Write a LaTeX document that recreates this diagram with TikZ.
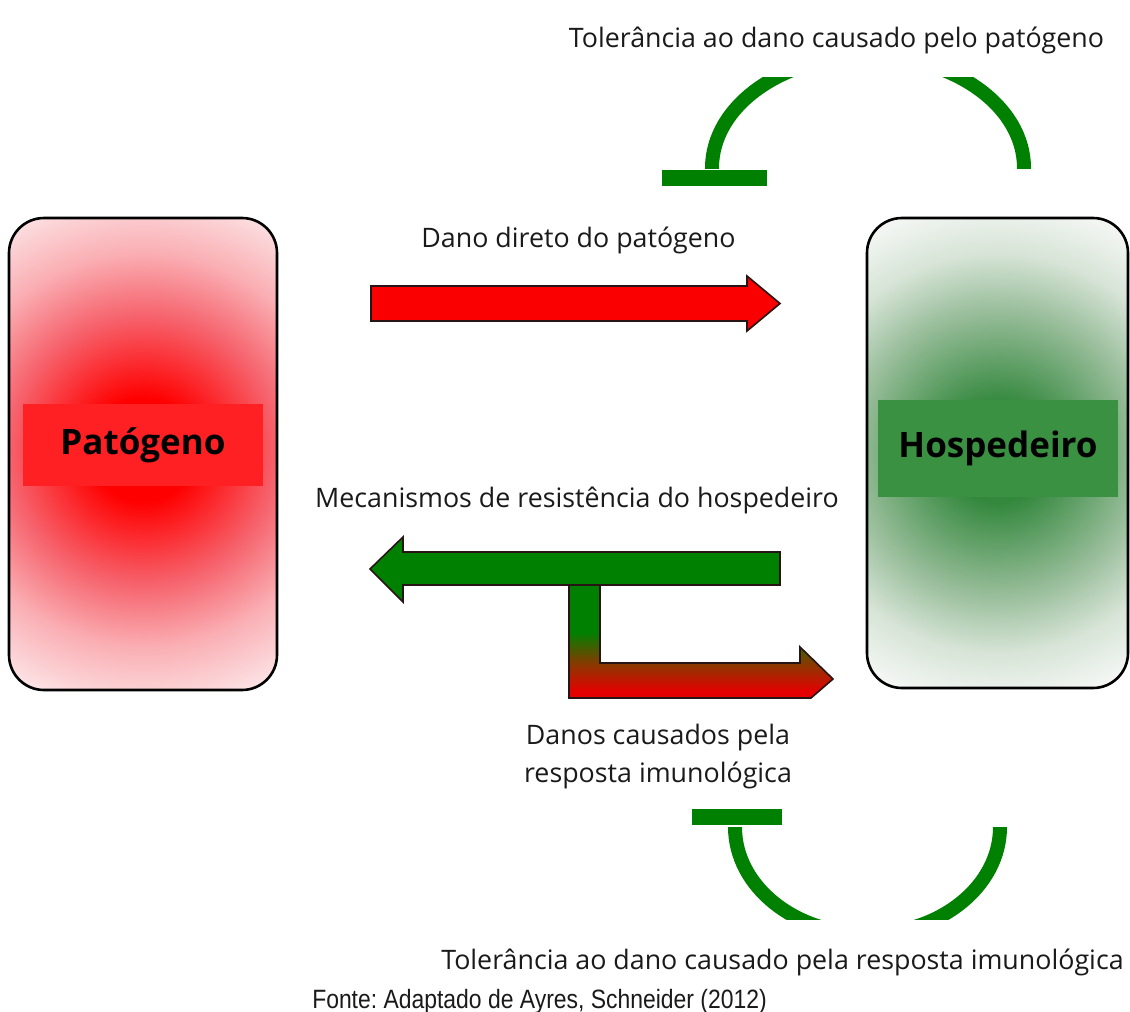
\documentclass[tikz,border=0pt]{standalone}
\usepackage{fontspec}
\setmainfont{Open Sans}
\newfontfamily\arialf{Liberation Sans}
\frenchspacing
\definecolor{txt}{RGB}{26,26,26}
\definecolor{pgreen}{RGB}{0,128,0}
\definecolor{ared}{RGB}{250,0,0}
\definecolor{aline}{RGB}{40,20,20}
\definecolor{lblred}{RGB}{255,32,36}
\definecolor{lblgreen}{RGB}{58,145,66}
\definecolor{redA}{RGB}{255,0,0}
\definecolor{redB}{RGB}{246,100,110}
\definecolor{redC}{RGB}{250,175,180}
\definecolor{redD}{RGB}{252,225,227}
\definecolor{grA}{RGB}{52,136,62}
\definecolor{grB}{RGB}{150,188,152}
\definecolor{grC}{RGB}{215,228,215}
\definecolor{grD}{RGB}{242,245,242}
\definecolor{gradred}{RGB}{228,0,0}
\definecolor{gradbrown}{RGB}{138,56,0}
\definecolor{gradgreen}{RGB}{0,128,0}
\pgfdeclareradialshading{redglow}{\pgfpoint{0bp}{0bp}}{color(0bp)=(redA); color(5bp)=(redA); color(13bp)=(redB); color(19bp)=(redC); color(25bp)=(redD); color(50bp)=(redD)}
\pgfdeclareradialshading{greenglow}{\pgfpoint{0bp}{0bp}}{color(0bp)=(grA); color(5bp)=(grA); color(14bp)=(grB); color(20bp)=(grC); color(25bp)=(grD); color(50bp)=(grD)}
\pgfdeclareverticalshading{splitgrad}{100bp}{color(0bp)=(gradred); color(28bp)=(gradred); color(40bp)=(gradbrown); color(54bp)=(gradgreen); color(100bp)=(gradgreen)}
\tikzset{
  mainbox/.style={draw=black, line width=2.6pt, rounded corners=35pt, inner sep=0pt},
  namebox/.style={inner sep=0pt, text=black, font=\fontsize{35}{42}\selectfont\bfseries},
  lbl/.style={inner sep=0pt, anchor=base, text=txt, font=\fontsize{26.8}{32}\selectfont},
  blockarrow/.style={draw=aline, line width=1.6pt, line join=miter},
  inhib/.style={draw=pgreen, line width=14pt, line cap=butt},
  bar/.style={fill=pgreen, draw=none}
}
\begin{document}
\begin{tikzpicture}[x=1pt,y=-1pt]
\useasboundingbox[fill=white] (0,0) rectangle (1130,1012);

% boxes
\node[mainbox, fill=redD, minimum width=268pt, minimum height=472pt,
  path picture={\shade[shading=redglow] ([yshift=4pt]path picture bounding box.center) circle [radius=260pt];}]
  (pat) at (143,454) {};
\node[mainbox, fill=grD, minimum width=261pt, minimum height=470pt,
  path picture={\shade[shading=greenglow] ([yshift=0pt]path picture bounding box.center) circle [radius=250pt];}]
  (hosp) at (997.5,453) {};
\node[namebox, fill=lblred, minimum width=240pt, minimum height=82pt] (patlbl) at (143,445) {Patógeno};
\node[namebox, fill=lblgreen, minimum width=240pt, minimum height=97pt] (hosplbl) at (998,448.5) {Hospedeiro};

% red arrow: direct damage
\draw[blockarrow, fill=ared] (371,286) -- (747,286) -- (747,276) -- (780,303.5) -- (747,331) -- (747,321) -- (371,321) -- cycle;

% stem + lower arrow (gradient)
\shadedraw[blockarrow, shading=splitgrad] (569,585) -- (600,585) -- (600,663) -- (800,663) -- (800,647) -- (833,679) -- (811,698) -- (569,698) -- cycle;

% green arrow: resistance
\draw[blockarrow, fill=pgreen] (780,552) -- (403,552) -- (403,537) -- (370,569) -- (403,602) -- (403,585) -- (780,585) -- cycle;

% top tolerance arc
\begin{scope}
  \clip (600,77) rectangle (1100,168);
  \draw[inhib] (868,168) ellipse [x radius=156pt, y radius=112pt];
\end{scope}
\fill[bar] (662,170) rectangle (767,186);

% bottom tolerance arc
\begin{scope}
  \clip (650,827) rectangle (1100,919);
  \draw[inhib] (867.5,827) ellipse [x radius=132.5pt, y radius=107pt];
\end{scope}
\fill[bar] (692,809) rectangle (782,825);

% labels
\node[lbl] (tTop) at (836.5,47) {Tolerância ao dano causado pelo patógeno};
\node[lbl] (tDano) at (578.5,247) {Dano direto do patógeno};
\node[lbl] (tMec) at (577,507) {Mecanismos de resistência do hospedeiro};
\node[lbl] (tDanos1) at (658,744) {Danos causados pela};
\node[lbl] (tDanos2) at (658,782) {resposta imunológica};
\node[lbl] (tBot) at (782.5,969) {Tolerância ao dano causado pela resposta imunológica};
\node[inner sep=0pt, anchor=base, text=txt, font=\arialf\fontsize{26.5}{31}\selectfont] (tFonte) at (539.5,1008) {\scalebox{0.865}[1]{Fonte: Adaptado de Ayres, Schneider (2012)}};
\end{tikzpicture}
\end{document}
